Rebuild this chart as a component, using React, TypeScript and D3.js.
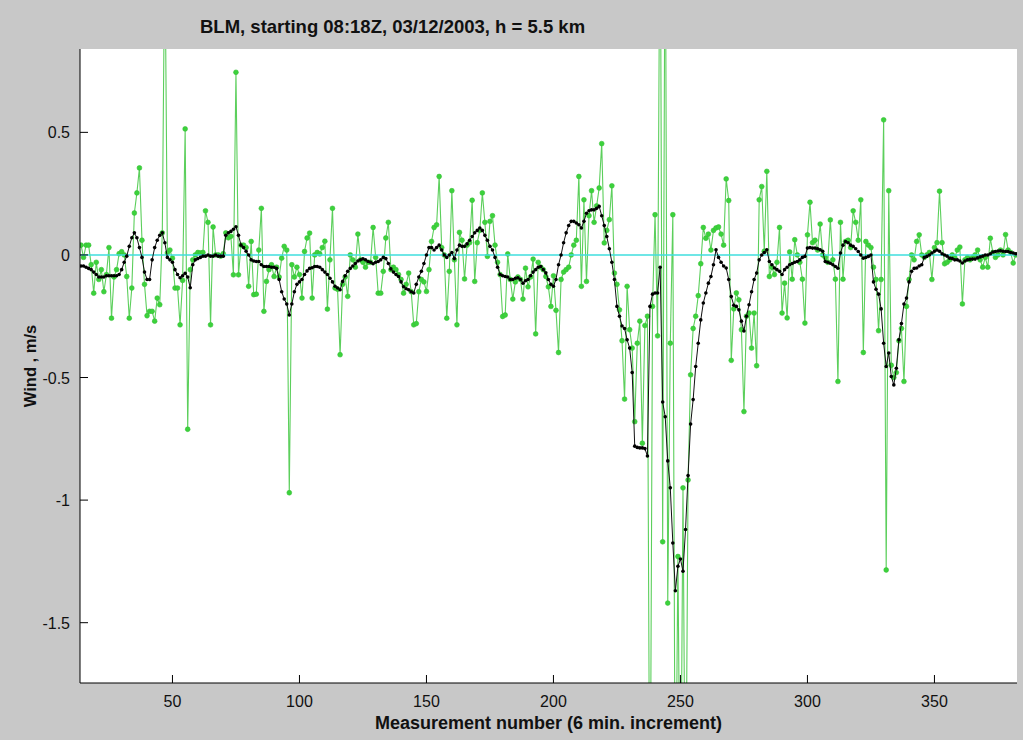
import React from 'react';
import * as d3 from 'd3';

// First measurement number in the series
const FIRST_INDEX = 14;

// Raw wind estimates (m/s), one per measurement, starting at FIRST_INDEX
const rawWind: number[] = [
  0.04, -0.01, 0.04, 0.04, -0.04, -0.156, -0.03, -0.10, -0.06, -0.15,
  -0.08, 0.03, -0.258, -0.09, -0.06, 0.005, 0.013, 0.0, -0.088, -0.258,
  -0.135, 0.171, 0.253, 0.355, 0.06, -0.12, -0.248, -0.23, -0.23, -0.27,
  -0.176, -0.203, 0.09, 1.3, 0.008, 0.02, -0.013, -0.135, -0.135, -0.285,
  -0.104, 0.514, -0.711, -0.06, -0.02, 0.0, 0.01, 0.008, 0.01, 0.18,
  0.133, -0.285, 0.114, 0.0, 0.0, -0.005, 0.005, 0.09, 0.07, 0.076,
  -0.081, 0.745, -0.081, 0.04, 0.04, 0.03, -0.128, 0.055, -0.162, -0.16,
  0.02, 0.19, -0.23, -0.108, -0.06, -0.04, -0.088, -0.05, -0.09, -0.013,
  0.035, 0.02, -0.97, -0.04, -0.09, -0.05, -0.08, -0.176, 0.014, 0.069,
  0.089, -0.176, 0.0, 0.01, 0.004, 0.03, 0.056, -0.221, -0.02, 0.19,
  -0.135, -0.14, -0.407, -0.12, -0.09, -0.169, 0.0, -0.02, -0.05, 0.085,
  -0.02, -0.03, -0.05, -0.03, -0.03, 0.112, -0.01, -0.156, -0.156, -0.067,
  0.069, 0.133, -0.06, -0.05, -0.06, -0.08, -0.10, -0.156, -0.12, -0.074,
  -0.15, -0.285, -0.28, -0.15, -0.1, -0.11, -0.149, -0.06, 0.055, 0.112,
  0.123, 0.32, 0.03, 0.0, -0.258, -0.067, 0.262, -0.02, -0.285, 0.092,
  0.06, -0.098, 0.04, 0.05, 0.223, -0.108, 0.05, 0.1, 0.253, 0.133,
  -0.006, 0.137, 0.16, 0.04, -0.03, -0.08, -0.251, -0.245, 0.004, -0.1,
  -0.18, -0.11, -0.09, -0.1, -0.18, -0.054, -0.13, -0.09, -0.017, -0.322,
  -0.03, -0.05, -0.06, -0.088, -0.13, -0.21, -0.085, -0.226, -0.398, -0.10,
  -0.07, -0.06, -0.05, 0.0, 0.04, 0.06, 0.32, -0.128, 0.225, -0.108,
  0.16, 0.262, 0.133, 0.2, 0.273, 0.454, 0.049, 0.1, 0.144, 0.282,
  -0.074, -0.12, -0.224, -0.35, -0.588, -0.128, -0.305, -0.38, -0.68, -0.36,
  -0.27, -0.768, -0.288, -0.25, -2.6, -0.21, 0.164, -0.33, 1.6, -1.17,
  1.6, -1.42, -0.36, 0.164, -2.5, -1.23, -2.5, -0.95, -2.5, -0.918,
  -0.489, -0.3, -0.25, -0.166, -0.036, 0.112, 0.068, 0.085, 0.02, 0.1,
  0.11, 0.114, 0.085, 0.04, 0.31, 0.222, -0.43, -0.22, -0.155, -0.183,
  -0.305, -0.639, -0.25, -0.237, -0.38, -0.237, -0.452, 0.225, 0.279, 0.015,
  0.341, -0.088, -0.05, -0.08, -0.03, 0.112, -0.237, -0.115, -0.257, 0.012,
  -0.099, 0.062, 0.0, -0.03, -0.099, -0.278, 0.082, 0.215, 0.05, 0.06,
  0.02, 0.126, 0.0, -0.01, -0.03, 0.143, -0.02, -0.099, -0.516, 0.133,
  -0.099, 0.055, 0.06, 0.03, 0.18, 0.133, 0.06, 0.225, -0.398, 0.055,
  0.04, 0.03, -0.05, -0.1, -0.309, -0.1, 0.551, -1.285, 0.262, -0.45,
  -0.5, -0.48, -0.35, -0.3, -0.516, -0.21, -0.1, 0.0, -0.02, 0.055,
  0.082, 0.0, -0.01, 0.0, 0.01, -0.1, 0.03, 0.05, 0.26, 0.05,
  -0.036, -0.03, -0.02, 0.0, -0.01, 0.02, 0.032, -0.2, -0.02, -0.01,
  -0.02, -0.01, 0.0, 0.02, -0.02, -0.05, -0.01, -0.05, 0.068, 0.01,
  -0.01, 0.0, 0.02, 0.0, 0.083, 0.02, 0.01, -0.033, 0.0,
];

// Smoothed wind (m/s), same measurement numbers
const smoothWind: number[] = [
  -0.045, -0.045, -0.05, -0.055, -0.06, -0.07, -0.08, -0.09, -0.09, -0.09,
  -0.085, -0.085, -0.085, -0.085, -0.085, -0.08, -0.06, -0.03, -0.005, 0.035,
  0.07, 0.09, 0.07, 0.03, -0.01, -0.07, -0.10, -0.10, -0.02, 0.03,
  0.06, 0.08, 0.09, 0.05, -0.01, -0.02, -0.03, -0.06, -0.08, -0.093,
  -0.085, -0.075, -0.09, -0.134, -0.04, -0.02, -0.015, -0.01, -0.005, -0.005,
  0.0, -0.005, -0.005, 0.0, -0.005, -0.005, -0.005, 0.08, 0.09, 0.096,
  0.105, 0.115, 0.08, 0.04, 0.03, 0.015, 0.0, -0.02, -0.025, -0.027,
  -0.027, -0.04, -0.047, -0.047, -0.047, -0.05, -0.05, -0.055, -0.10, -0.15,
  -0.18, -0.20, -0.245, -0.20, -0.15, -0.12, -0.11, -0.10, -0.08, -0.065,
  -0.055, -0.052, -0.047, -0.047, -0.05, -0.06, -0.07, -0.08, -0.095, -0.11,
  -0.128, -0.135, -0.142, -0.108, -0.085, -0.067, -0.055, -0.045, -0.035, -0.025,
  -0.02, -0.016, -0.02, -0.027, -0.03, -0.036, -0.03, -0.027, -0.02, -0.01,
  -0.015, -0.035, -0.057, -0.07, -0.08, -0.088, -0.11, -0.13, -0.138, -0.142,
  -0.15, -0.155, -0.12, -0.09, -0.067, -0.035, 0.0, 0.03, 0.03, 0.02,
  0.03, 0.04, 0.02, 0.0, -0.01, 0.0, 0.01, -0.015, 0.02, 0.04,
  0.035, 0.035, 0.045, 0.06, 0.075, 0.09, 0.10, 0.11, 0.10, 0.08,
  0.06, 0.035, 0.02, -0.01, -0.05, -0.08, -0.085, -0.088, -0.09, -0.10,
  -0.10, -0.095, -0.093, -0.10, -0.115, -0.105, -0.10, -0.085, -0.07, -0.06,
  -0.05, -0.047, -0.06, -0.073, -0.10, -0.12, -0.128, -0.10, -0.04, 0.0,
  0.05, 0.09, 0.12, 0.137, 0.137, 0.13, 0.123, 0.11, 0.137, 0.17,
  0.18, 0.184, 0.184, 0.19, 0.198, 0.16, 0.12, 0.075, 0.025, -0.03,
  -0.10, -0.21, -0.25, -0.29, -0.30, -0.346, -0.38, -0.48, -0.78, -0.785,
  -0.787, -0.787, -0.79, -0.82, -0.21, -0.16, -0.155, -0.155, -0.05, -0.60,
  -0.66, -0.84, -0.95, -1.175, -1.37, -1.27, -1.24, -1.29, -1.12, -0.9,
  -0.69, -0.59, -0.455, -0.36, -0.265, -0.196, -0.155, -0.115, -0.088, -0.04,
  0.021, -0.01, -0.03, -0.045, -0.053, -0.10, -0.17, -0.205, -0.21, -0.224,
  -0.27, -0.31, -0.25, -0.203, -0.15, -0.10, -0.074, -0.02, 0.0, 0.01,
  0.021, -0.027, -0.04, -0.053, -0.06, -0.067, -0.08, -0.06, -0.05, -0.04,
  -0.035, -0.03, -0.027, -0.02, -0.01, -0.006, 0.028, 0.03, 0.028, 0.028,
  0.025, 0.021, 0.015, -0.027, -0.03, -0.034, -0.04, -0.047, -0.054, 0.008,
  0.04, 0.055, 0.05, 0.04, 0.035, 0.025, 0.014, 0.0, -0.013, -0.01,
  -0.006, 0.0, -0.11, -0.14, -0.16, -0.22, -0.36, -0.455, -0.40, -0.496,
  -0.53, -0.462, -0.346, -0.28, -0.2, -0.176, -0.11, -0.067, -0.055, -0.053,
  -0.045, -0.04, -0.01, -0.006, 0.0, 0.008, 0.015, 0.02, 0.015, 0.005,
  0.0, -0.005, -0.013, -0.015, -0.02, -0.02, -0.025, -0.033, -0.025, -0.02,
  -0.018, -0.017, -0.017, -0.012, -0.008, -0.005, 0.0, 0.0, 0.005, 0.012,
  0.014, 0.016, 0.017, 0.015, 0.014, 0.014, 0.01, 0.008, 0.005,
];

const xTicks = [50, 100, 150, 200, 250, 300, 350];
const yTicks = [0.5, 0, -0.5, -1, -1.5];
const xDomain: [number, number] = [13.6, 382.5];
const yDomain: [number, number] = [-1.746, 0.84];

const titleText = 'BLM, starting 08:18Z, 03/12/2003, h = 5.5 km';
const xLabel = 'Measurement number (6 min. increment)';
const yLabel = 'Wind , m/s';

const FONT = "'Liberation Sans', Arial, Helvetica, sans-serif";

export default function App() {
  const W = 1023;
  const H = 740;
  const plot = { left: 80, right: 1017, top: 49, bottom: 683 };

  const x = d3.scaleLinear().domain(xDomain).range([plot.left, plot.right]);
  const y = d3.scaleLinear().domain(yDomain).range([plot.bottom, plot.top]);

  const lineGen = d3
    .line<number>()
    .x((_, i) => x(FIRST_INDEX + i))
    .y((d) => y(d));

  const inside = (v: number) => v >= yDomain[0] && v <= yDomain[1];

  return (
    <svg
      width={W}
      height={H}
      style={{ position: 'absolute', left: 0, top: 0, display: 'block' }}
      fontFamily={FONT}
    >
      <defs>
        <clipPath id="plot-clip">
          <rect
            x={plot.left}
            y={plot.top}
            width={plot.right - plot.left}
            height={plot.bottom - plot.top}
          />
        </clipPath>
      </defs>

      {/* figure background */}
      <rect x={0} y={0} width={W} height={H} fill="#c8c8c8" />
      {/* axes background */}
      <rect
        x={plot.left}
        y={plot.top}
        width={plot.right - plot.left}
        height={plot.bottom - plot.top}
        fill="#ffffff"
      />

      <g clipPath="url(#plot-clip)">
        {/* raw series */}
        <path d={lineGen(rawWind) || ''} fill="none" stroke="#5ccf5c" strokeWidth={1.1} />
        {rawWind.map((v, i) =>
          inside(v) ? (
            <circle
              key={'r' + i}
              cx={x(FIRST_INDEX + i)}
              cy={y(v)}
              r={2.4}
              fill="#3cd23c"
              stroke="#34c034"
              strokeWidth={0.6}
            />
          ) : null
        )}

        {/* zero reference */}
        <line
          x1={plot.left}
          x2={plot.right}
          y1={y(0)}
          y2={y(0)}
          stroke="#3fdede"
          strokeWidth={1.6}
        />

        {/* smoothed series */}
        <path d={lineGen(smoothWind) || ''} fill="none" stroke="#111" strokeWidth={1} />
        {smoothWind.map((v, i) => (
          <circle key={'s' + i} cx={x(FIRST_INDEX + i)} cy={y(v)} r={1.8} fill="#000" />
        ))}
      </g>

      {/* axis lines */}
      <line x1={plot.left} x2={plot.left} y1={plot.top} y2={plot.bottom} stroke="#000" strokeWidth={1} />
      <line x1={plot.left} x2={plot.right} y1={plot.bottom} y2={plot.bottom} stroke="#000" strokeWidth={1} />

      {/* x ticks */}
      {xTicks.map((t) => (
        <g key={'xt' + t}>
          <line x1={x(t)} x2={x(t)} y1={plot.bottom} y2={plot.bottom - 8} stroke="#000" strokeWidth={1} />
          <text x={x(t)} y={plot.bottom + 24} textAnchor="middle" fontSize={16} fill="#111">
            {String(t)}
          </text>
        </g>
      ))}

      {/* y ticks */}
      {yTicks.map((t) => (
        <g key={'yt' + t}>
          <line x1={plot.left} x2={plot.left + 8} y1={y(t)} y2={y(t)} stroke="#000" strokeWidth={1} />
          <text x={plot.left - 10} y={y(t) + 6} textAnchor="end" fontSize={16} fill="#111">
            {String(t)}
          </text>
        </g>
      ))}

      {/* labels */}
      <text x={200} y={33} fontSize={18.5} fontWeight="bold" fill="#111">
        {titleText}
      </text>
      <text
        x={(plot.left + plot.right) / 2}
        y={729}
        textAnchor="middle"
        fontSize={18}
        fontWeight="bold"
        fill="#111"
      >
        {xLabel}
      </text>
      <text
        transform={`translate(36, ${366}) rotate(-90)`}
        textAnchor="middle"
        fontSize={16.5}
        fontWeight="bold"
        fill="#111"
      >
        {yLabel}
      </text>
    </svg>
  );
}
